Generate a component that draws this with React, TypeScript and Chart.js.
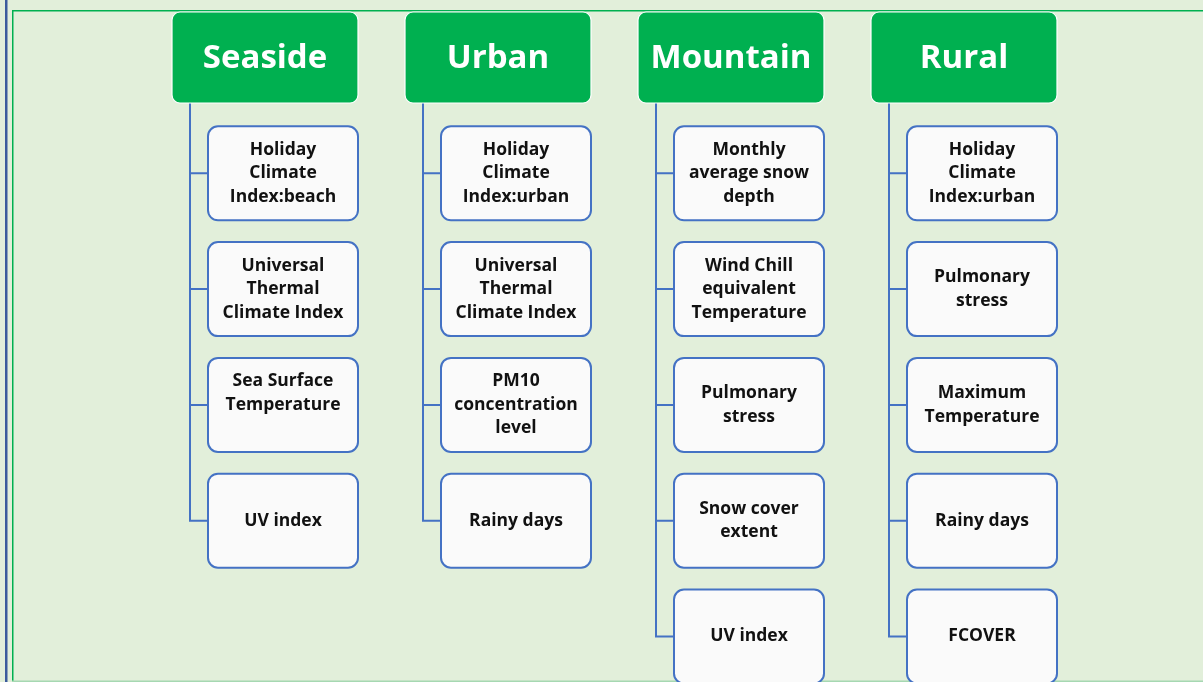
import React, { useEffect, useRef } from "react";
import { Chart, registerables } from "chart.js";

Chart.register(...registerables);

// ---- Data ----
const categories = ["Seaside", "Urban", "Mountain", "Rural"];
const seasideIndicators = [
  "Holiday\nClimate\nIndex:beach",
  "Universal\nThermal\nClimate Index",
  "Sea Surface\nTemperature\n",
  "UV index",
];
const urbanIndicators = [
  "Holiday\nClimate\nIndex:urban",
  "Universal\nThermal\nClimate Index",
  "PM10\nconcentration\nlevel",
  "Rainy days",
];
const mountainIndicators = [
  "Monthly\naverage snow\ndepth",
  "Wind Chill\nequivalent\nTemperature",
  "Pulmonary\nstress",
  "Snow cover\nextent",
  "UV index",
];
const ruralIndicators = [
  "Holiday\nClimate\nIndex:urban",
  "Pulmonary\nstress",
  "Maximum\nTemperature",
  "Rainy days",
  "FCOVER",
];
const indicatorGroups = [seasideIndicators, urbanIndicators, mountainIndicators, ruralIndicators];

// ---- Styles ----
const BG = "#E2EFDA";
const HEADER_FILL = "#00B050";
const LINK = "#4472C4";
const CHILD_FILL = "#FAFAFA";
const FONT = "'Open Sans', 'Noto Sans', sans-serif";

function roundRect(ctx: CanvasRenderingContext2D, x: number, y: number, w: number, h: number, r: number) {
  ctx.beginPath();
  ctx.moveTo(x + r, y);
  ctx.lineTo(x + w - r, y);
  ctx.arcTo(x + w, y, x + w, y + r, r);
  ctx.lineTo(x + w, y + h - r);
  ctx.arcTo(x + w, y + h, x + w - r, y + h, r);
  ctx.lineTo(x + r, y + h);
  ctx.arcTo(x, y + h, x, y + h - r, r);
  ctx.lineTo(x, y + r);
  ctx.arcTo(x, y, x + r, y, r);
  ctx.closePath();
}

const treePlugin = {
  id: "treePlugin",
  beforeDraw(chart: any) {
    const ctx = chart.ctx as CanvasRenderingContext2D;
    const W = chart.width, H = chart.height;
    ctx.save();
    ctx.fillStyle = BG;
    ctx.fillRect(0, 0, W, H);
    // frame lines
    ctx.fillStyle = "#3B5B9C";
    ctx.fillRect(5, 0, 2.5, H);
    ctx.fillStyle = "#00B050";
    ctx.fillRect(12, 10, 1.5, H - 10);
    ctx.fillRect(12, 10, W - 12, 1.5);
    ctx.fillStyle = "#A6D8B2";
    ctx.fillRect(12, H - 1.5, W - 12, 1.5);
    ctx.restore();
  },
  afterDatasetsDraw(chart: any) {
    const ctx = chart.ctx as CanvasRenderingContext2D;
    const HW = 186, HH = 91; // header box
    const CW = 150, CH = 94; // child box
    const childShift = 18;
    const trunkShift = -75;
    chart.data.datasets.forEach((ds: any, di: number) => {
      const meta = chart.getDatasetMeta(di);
      const pts = meta.data;
      const labels: string[] = ds.nodeLabels;
      const head = pts[0];
      const last = pts[pts.length - 1];
      const trunkX = head.x + trunkShift;
      ctx.save();
      // connectors
      ctx.strokeStyle = LINK;
      ctx.lineWidth = 2;
      ctx.beginPath();
      ctx.moveTo(trunkX, head.y + HH / 2);
      ctx.lineTo(trunkX, last.y);
      for (let i = 1; i < pts.length; i++) {
        ctx.moveTo(trunkX - 1, pts[i].y);
        ctx.lineTo(pts[i].x + childShift - CW / 2, pts[i].y);
      }
      ctx.stroke();

      // header box
      roundRect(ctx, head.x - HW / 2, head.y - HH / 2, HW, HH, 8);
      ctx.fillStyle = HEADER_FILL;
      ctx.fill();
      ctx.strokeStyle = "#FFFFFF";
      ctx.lineWidth = 1.2;
      ctx.stroke();
      ctx.fillStyle = "#FFFFFF";
      ctx.font = `bold 33px ${FONT}`;
      ctx.textAlign = "center";
      ctx.textBaseline = "middle";
      ctx.fillText(labels[0], head.x, head.y + 1);

      // children
      for (let i = 1; i < pts.length; i++) {
        const cx = pts[i].x + childShift;
        const cy = pts[i].y;
        roundRect(ctx, cx - CW / 2, cy - CH / 2, CW, CH, 10);
        ctx.fillStyle = CHILD_FILL;
        ctx.fill();
        ctx.strokeStyle = LINK;
        ctx.lineWidth = 2;
        ctx.stroke();
        const lines = labels[i].split("\n");
        const lh = 23.5;
        ctx.fillStyle = "#111111";
        ctx.font = `bold 17.5px ${FONT}`;
        const start = cy - ((lines.length - 1) * lh) / 2;
        lines.forEach((ln, k) => ctx.fillText(ln, cx, start + k * lh));
      }
      ctx.restore();
    });
  },
};

export default function App() {
  const ref = useRef<HTMLCanvasElement | null>(null);
  useEffect(() => {
    document.body.style.margin = "0";
    if (!ref.current) return;
    const datasets = categories.map((cat, c) => ({
      label: cat,
      nodeLabels: [cat, ...indicatorGroups[c]],
      data: [{ x: c, y: 0 }, ...indicatorGroups[c].map((_, i) => ({ x: c, y: i + 1 }))],
      pointRadius: 0,
      showLine: false,
    }));
    const chart = new Chart(ref.current, {
      type: "scatter",
      data: { datasets: datasets as any },
      options: {
        animation: false,
        responsive: false,
        events: [],
        layout: { padding: 0 },
        plugins: { legend: { display: false }, tooltip: { enabled: false } },
        scales: {
          x: { type: "linear", display: false, min: -265 / 233, max: (1203 - 265) / 233 },
          y: { type: "linear", display: false, reverse: true, min: -57.5 / 115.8, max: (682 - 57.5) / 115.8 },
        },
      },
      plugins: [treePlugin],
    });
    return () => chart.destroy();
  }, []);
  return (
    <div style={{ position: "absolute", left: 0, top: 0, width: 1203, height: 682 }}>
      <canvas ref={ref} width={1203} height={682} />
    </div>
  );
}
